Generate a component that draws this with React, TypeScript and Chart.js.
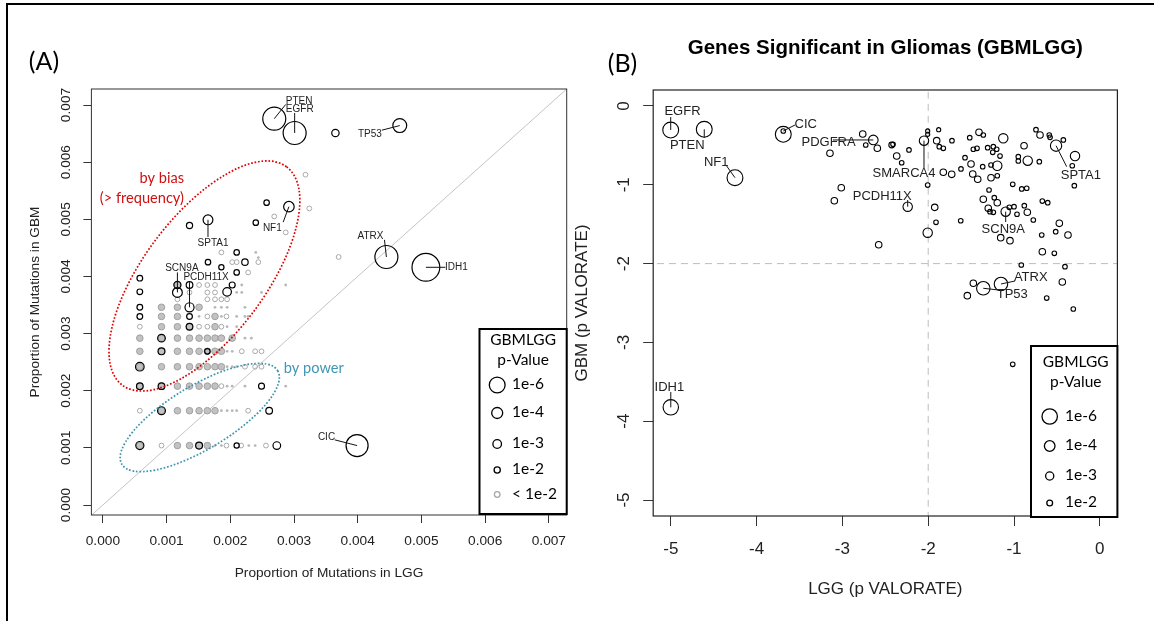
import React, { useEffect, useRef } from "react";
import { Chart, registerables } from "chart.js";
Chart.register(...registerables);

const SANS = '"Liberation Sans", Arial, sans-serif';
const CAL = 'Lato, "Open Sans", sans-serif';

// ---------------- Panel A data ----------------
const aTicks = [0, 0.001, 0.002, 0.003, 0.004, 0.005, 0.006, 0.007];
const aTickLabels = ["0.000", "0.001", "0.002", "0.003", "0.004", "0.005", "0.006", "0.007"];

// significant genes: [prop. LGG, prop. GBM, -log10(p GBMLGG)]
const aSignificant: [number, number, number][] = [
  [0.00269, 0.00676, 9.0], [0.00301, 0.00651, 9.0], [0.00466, 0.00664, 5.2], [0.00365, 0.00651, 2.5],
  [0.00292, 0.00522, 3.8], [0.00257, 0.00529, 1.7], [0.0024, 0.00494, 1.7], [0.00136, 0.00489, 2.0],
  [0.00165, 0.00499, 3.5], [0.00445, 0.00434, 9.0], [0.00507, 0.00416, 11.0], [0.00399, 0.00104, 8.6],
  [0.0021, 0.00442, 1.7], [0.00165, 0.00425, 1.7], [0.00223, 0.00425, 2.1], [0.00186, 0.00416, 1.6],
  [0.0021, 0.00407, 1.7], [0.00058, 0.00397, 1.8], [0.00058, 0.00373, 1.8], [0.00117, 0.00385, 2.4],
  [0.00117, 0.00372, 3.5], [0.00136, 0.00385, 2.2], [0.00203, 0.00385, 1.9], [0.00195, 0.00373, 3.0],
  [0.00136, 0.00346, 3.2], [0.00058, 0.00346, 1.8], [0.00058, 0.0033, 1.8], [0.00136, 0.0033, 1.8],
  [0.00136, 0.00312, 2.2], [0.00092, 0.00292, 2.6], [0.00092, 0.00269, 2.3], [0.00164, 0.00269, 1.7],
  [0.00058, 0.00242, 3.0], [0.00058, 0.00208, 2.2], [0.00092, 0.00208, 2.2], [0.00249, 0.00208, 1.9],
  [0.00092, 0.00165, 2.7], [0.00261, 0.00165, 2.2], [0.00058, 0.00104, 2.8], [0.00151, 0.00104, 2.3],
  [0.0021, 0.00104, 1.6], [0.00273, 0.00104, 2.6],
];

// non-significant genes stacked on the same values (dense)
const aDense: [number, number][] = [
  [0.00092, 0.00346], [0.00117, 0.00346], [0.00151, 0.00346],
  [0.00092, 0.0033], [0.00117, 0.0033], [0.00176, 0.0033],
  [0.00092, 0.00312], [0.00117, 0.00312], [0.00136, 0.00312], [0.00176, 0.00312],
  [0.00058, 0.00292], [0.00092, 0.00292], [0.00117, 0.00292], [0.00136, 0.00292], [0.00151, 0.00292],
  [0.00164, 0.00292], [0.00176, 0.00292], [0.00186, 0.00292], [0.00203, 0.00292],
  [0.00058, 0.00269], [0.00092, 0.00269], [0.00117, 0.00269], [0.00136, 0.00269], [0.00151, 0.00269],
  [0.00164, 0.00269], [0.00176, 0.00269], [0.00186, 0.00269],
  [0.00058, 0.00242], [0.00092, 0.00242], [0.00117, 0.00242], [0.00136, 0.00242], [0.00151, 0.00242],
  [0.00164, 0.00242], [0.00176, 0.00242], [0.00186, 0.00242],
  [0.00058, 0.00208], [0.00092, 0.00208], [0.00117, 0.00208], [0.00136, 0.00208], [0.00151, 0.00208],
  [0.00164, 0.00208], [0.00176, 0.00208],
  [0.00092, 0.00165], [0.00117, 0.00165], [0.00136, 0.00165], [0.00151, 0.00165], [0.00164, 0.00165],
  [0.00176, 0.00165],
  [0.00058, 0.00104], [0.00117, 0.00104], [0.00136, 0.00104], [0.00151, 0.00104], [0.00164, 0.00104],
  [0.00117, 0.00385],
];

// single non-significant genes
const aSingle: [number, number][] = [
  [0.00164, 0.0033], [0.00194, 0.0033],
  [0.00058, 0.00312], [0.00151, 0.00312], [0.00164, 0.00312], [0.00186, 0.00312],
  [0.00218, 0.00269], [0.00239, 0.00269], [0.00249, 0.00269],
  [0.00223, 0.00242], [0.00239, 0.00242], [0.00249, 0.00242],
  [0.00186, 0.00208],
  [0.00058, 0.00165], [0.00228, 0.00165],
  [0.00092, 0.00104], [0.00194, 0.00104], [0.00217, 0.00104], [0.00256, 0.00104],
  [0.00117, 0.0036], [0.00164, 0.0036], [0.00176, 0.0036], [0.00186, 0.0036], [0.00195, 0.0036],
  [0.00136, 0.00372], [0.00164, 0.00372], [0.00176, 0.00372],
  [0.00151, 0.00385], [0.00164, 0.00385], [0.00176, 0.00385],
  [0.00228, 0.00407], [0.00203, 0.00425], [0.0021, 0.00425], [0.00244, 0.00425], [0.00186, 0.00442],
  [0.00269, 0.00505], [0.00287, 0.00477], [0.00318, 0.00578], [0.00324, 0.00519], [0.0037, 0.00434],
];

// tiny markers
const aTiny: [number, number][] = [
  [0.00176, 0.00346], [0.00186, 0.00346], [0.00195, 0.00346], [0.00223, 0.00346],
  [0.00151, 0.0033], [0.00186, 0.0033], [0.0021, 0.0033], [0.00223, 0.0033], [0.00228, 0.0033],
  [0.00195, 0.00312], [0.0021, 0.00312], [0.00223, 0.00292], [0.00233, 0.00292],
  [0.00195, 0.00269], [0.00203, 0.00269], [0.00195, 0.00242], [0.00203, 0.00242], [0.0021, 0.00242],
  [0.00195, 0.00208], [0.00203, 0.00208], [0.00223, 0.00208], [0.00287, 0.00208],
  [0.00186, 0.00165], [0.00195, 0.00165], [0.00203, 0.00165], [0.0021, 0.00165],
  [0.00176, 0.00104], [0.00186, 0.00104], [0.00229, 0.00104], [0.00239, 0.00104],
  [0.0021, 0.00372], [0.00218, 0.00372], [0.00249, 0.00372], [0.00218, 0.00385], [0.00287, 0.00385],
  [0.00244, 0.00433], [0.0024, 0.00442],
];

const aLabels = [
  { gene: "PTEN", px: 0.00269, py: 0.00676, tx: 0.00308, ty: 0.00707, lx: 0.00287, ly: 0.00701 },
  { gene: "EGFR", px: 0.00301, py: 0.00651, tx: 0.00309, ty: 0.006925, lx: 0.00301, ly: 0.00686 },
  { gene: "TP53", px: 0.00466, py: 0.00664, tx: 0.00419, ty: 0.00649, lx: 0.00438, ly: 0.00656 },
  { gene: "NF1", px: 0.00292, py: 0.00522, tx: 0.00266, ty: 0.00485, lx: 0.00283, ly: 0.00495 },
  { gene: "SPTA1", px: 0.00165, py: 0.00499, tx: 0.00173, ty: 0.00458, lx: 0.00165, ly: 0.00469 },
  { gene: "SCN9A", px: 0.00117, py: 0.00372, tx: 0.00124, ty: 0.00414, lx: 0.00117, ly: 0.00407 },
  { gene: "PCDH11X", px: 0.00136, py: 0.00346, tx: 0.00162, ty: 0.003985, lx: 0.00136, ly: 0.0039 },
  { gene: "ATRX", px: 0.00445, py: 0.00434, tx: 0.0042, ty: 0.0047, lx: 0.00442, ly: 0.00464 },
  { gene: "IDH1", px: 0.00507, py: 0.00416, tx: 0.00555, ty: 0.00416, lx: 0.005375, ly: 0.00416 },
  { gene: "CIC", px: 0.00399, py: 0.00104, tx: 0.00351, ty: 0.001185, lx: 0.00364, ly: 0.00114 },
];

// ---------------- Panel B data ----------------
const bXTicks = [-5, -4, -3, -2, -1, 0];
const bYTicks = [0, -1, -2, -3, -4, -5];

// [LGG log p, GBM log p, -log10(p GBMLGG)]
const bGenes: [number, number, number][] = [
  [-5.001, -0.305, 6.2], [-4.61, -0.296, 6.2], [-4.252, -0.91, 6.2], [-3.689, -0.359, 6.2],
  [-3.689, -0.317, 1.5], [-5.0, -3.824, 6.0], [-1.358, -2.313, 5.2], [-1.152, -2.259, 5.2],
  [-0.51, -0.504, 4.3], [-2.049, -0.44, 3.5], [-2.239, -1.278, 3.5], [-1.097, -1.341, 3.5],
  [-2.64, -0.431, 3.6], [-2.763, -0.355, 2.3], [-2.728, -0.495, 1.5], [-2.593, -0.537, 2.3],
  [-3.145, -0.6, 2.3], [-3.013, -1.037, 2.3], [-3.094, -1.202, 2.3], [-2.577, -1.76, 2.3],
  [-2.006, -0.317, 1.3], [-2.006, -0.359, 1.3], [-1.878, -0.301, 1.3], [-1.901, -0.44, 2.3],
  [-1.871, -0.516, 1.5], [-1.824, -0.537, 1.5], [-1.723, -0.44, 1.5], [-2.425, -0.495, 2.0],
  [-2.41, -0.486, 1.5], [-2.224, -0.558, 1.5], [-2.367, -0.635, 2.3], [-2.309, -0.72, 1.5],
  [-2.006, -1.003, 1.5], [-1.824, -0.841, 2.3], [-1.726, -0.867, 2.3], [-1.618, -0.799, 1.5],
  [-1.924, -1.286, 2.3], [-1.909, -1.476, 1.5], [-1.621, -1.456, 1.5], [-2.006, -1.608, 3.5],
  [-1.516, -0.402, 1.5], [-1.408, -0.334, 2.3], [-1.358, -0.368, 1.5], [-1.125, -0.41, 3.5],
  [-1.474, -0.549, 1.5], [-1.431, -0.537, 1.5], [-1.307, -0.529, 1.5], [-1.241, -0.516, 1.5],
  [-1.202, -0.549, 1.5], [-1.248, -0.588, 1.5], [-1.163, -0.635, 1.5], [-1.571, -0.656, 1.5],
  [-1.501, -0.736, 2.3], [-1.365, -0.77, 1.5], [-1.268, -0.749, 1.5], [-1.195, -0.758, 3.5],
  [-1.481, -0.863, 2.3], [-1.423, -0.93, 2.3], [-1.268, -0.91, 2.3], [-1.195, -0.885, 1.5],
  [-1.015, -0.994, 1.5], [-0.91, -1.053, 1.5], [-0.852, -1.044, 1.5], [-1.291, -1.066, 1.5],
  [-1.358, -1.184, 2.3], [-1.23, -1.164, 1.5], [-1.195, -1.227, 2.3], [-1.3, -1.298, 2.3],
  [-1.28, -1.341, 1.5], [-1.241, -1.349, 1.5], [-1.055, -1.286, 1.5], [-1.0, -1.278, 1.5],
  [-0.965, -1.374, 1.5], [-0.88, -1.265, 1.5], [-0.845, -1.349, 2.3], [-0.775, -1.447, 1.5],
  [-0.95, -0.643, 1.5], [-0.95, -0.698, 1.5], [-0.84, -0.694, 3.5], [-0.883, -0.504, 2.3],
  [-0.705, -0.707, 1.5], [-0.744, -0.301, 1.5], [-0.697, -0.368, 2.3], [-0.589, -0.368, 1.5],
  [-0.58, -0.397, 1.5], [-0.425, -0.431, 1.5], [-0.289, -0.635, 3.5], [-0.321, -0.758, 1.5],
  [-0.297, -1.011, 1.5], [-0.67, -1.206, 1.5], [-0.607, -1.227, 1.5], [-0.472, -1.489, 2.3],
  [-0.514, -1.595, 1.5], [-0.371, -1.637, 2.3], [-0.677, -1.637, 1.5], [-1.155, -1.671, 2.3],
  [-1.047, -1.709, 2.3], [-0.67, -1.849, 2.3], [-0.53, -1.869, 1.5], [-0.915, -2.018, 1.5],
  [-0.406, -2.039, 1.5], [-0.437, -2.234, 2.3], [-1.474, -2.25, 2.3], [-1.544, -2.407, 2.3],
  [-0.619, -2.437, 1.5], [-0.309, -2.576, 1.5], [-1.015, -3.278, 1.5],
];

const bLabels = [
  { gene: "EGFR", px: -5.001, py: -0.305, tx: -4.864, ty: -0.063, lx: -5.001, ly: -0.14 },
  { gene: "PTEN", px: -4.61, py: -0.296, tx: -4.808, ty: -0.504, lx: -4.61, ly: -0.402 },
  { gene: "NF1", px: -4.252, py: -0.91, tx: -4.471, ty: -0.72, lx: -4.357, ly: -0.749 },
  { gene: "CIC", px: -3.689, py: -0.317, tx: -3.427, ty: -0.228, lx: -3.552, ly: -0.241 },
  { gene: "PDGFRA", px: -2.64, py: -0.431, tx: -3.161, ty: -0.466, lx: -3.11, ly: -0.431 },
  { gene: "SMARCA4", px: -2.049, py: -0.44, tx: -2.282, ty: -0.854, lx: -2.049, ly: -0.787 },
  { gene: "PCDH11X", px: -2.239, py: -1.278, tx: -2.536, ty: -1.151, lx: -2.239, ly: -1.193 },
  { gene: "SCN9A", px: -1.097, py: -1.341, tx: -1.125, ty: -1.561, lx: -1.097, ly: -1.472 },
  { gene: "SPTA1", px: -0.51, py: -0.504, tx: -0.221, ty: -0.876, lx: -0.386, ly: -0.77 },
  { gene: "ATRX", px: -1.152, py: -2.259, tx: -0.805, ty: -2.179, lx: -0.988, ly: -2.221 },
  { gene: "TP53", px: -1.358, py: -2.313, tx: -1.02, ty: -2.39, lx: -1.183, ly: -2.335 },
  { gene: "IDH1", px: -5.0, py: -3.824, tx: -5.017, ty: -3.575, lx: -5.0, ly: -3.63 },
];

const legendLevels = [6, 4, 3, 2];
const legendTexts = ["1e-6", "1e-4", "1e-3", "1e-2"];

const radiusA = (l: number) => 0.7 + 1.2 * l;
const radiusB = (l: number) => 0.5 + 1.2 * l;

function text(ctx: any, s: string, x: number, y: number, font: string, color: string, align: any = "center") {
  ctx.font = font;
  ctx.fillStyle = color;
  ctx.textAlign = align;
  ctx.textBaseline = "middle";
  ctx.fillText(s, x, y);
}

function drawLabels(chart: any, labels: any[], font: string) {
  const { ctx, scales } = chart;
  const x = scales.x, y = scales.y;
  ctx.save();
  ctx.strokeStyle = "#111";
  ctx.lineWidth = 1;
  for (const l of labels) {
    ctx.beginPath();
    ctx.moveTo(x.getPixelForValue(l.px), y.getPixelForValue(l.py));
    ctx.lineTo(x.getPixelForValue(l.lx), y.getPixelForValue(l.ly));
    ctx.stroke();
    text(ctx, l.gene, x.getPixelForValue(l.tx), y.getPixelForValue(l.ty), font, "#222");
  }
  ctx.restore();
}

function axisCommon(tickLen: number, size: number, pad: number) {
  return {
    grid: { display: true, drawOnChartArea: false, drawTicks: true, tickLength: tickLen, color: "#333", lineWidth: 1 },
    border: { display: false },
    ticks: { font: { family: SANS, size }, color: "#222", padding: pad, autoSkip: false },
  };
}

export default function App() {
  const refA = useRef<HTMLCanvasElement>(null);
  const refB = useRef<HTMLCanvasElement>(null);

  useEffect(() => {
    const pluginA = {
      id: "panelA",
      beforeDraw(chart: any) {
        const ctx = chart.ctx;
        ctx.save();
        ctx.fillStyle = "#000";
        ctx.fillRect(6, 3, 1148, 2);
        ctx.fillRect(6, 3, 2, 618);
        ctx.restore();
      },
      afterDatasetsDraw(chart: any) {
        const { ctx, chartArea: ca, scales } = chart;
        const x = scales.x, y = scales.y;
        ctx.save();
        ctx.strokeStyle = "#333";
        ctx.lineWidth = 1;
        ctx.strokeRect(ca.left, ca.top, ca.right - ca.left, ca.bottom - ca.top);
        // ellipses
        ctx.lineWidth = 1.7;
        ctx.setLineDash([1.7, 1.8]);
        ctx.strokeStyle = "#e00000";
        ctx.beginPath();
        ctx.ellipse(x.getPixelForValue(0.001594), y.getPixelForValue(0.004008), 136.6, 60.7, (-53 * Math.PI) / 180, 0, 2 * Math.PI);
        ctx.stroke();
        ctx.strokeStyle = "#3a93b0";
        ctx.beginPath();
        ctx.ellipse(x.getPixelForValue(0.001521), y.getPixelForValue(0.001531), 90.9, 31.7, (-31 * Math.PI) / 180, 0, 2 * Math.PI);
        ctx.stroke();
        ctx.setLineDash([]);
        ctx.restore();
        drawLabels(chart, aLabels, `10px ${SANS}`);
        ctx.save();
        // annotations
        text(ctx, "by bias", x.getPixelForValue(0.001273), y.getPixelForValue(0.005718), `14.6px ${CAL}`, "#d01010", "right");
        text(ctx, "(> frequency)", x.getPixelForValue(0.001273), y.getPixelForValue(0.005368), `14.6px ${CAL}`, "#d01010", "right");
        text(ctx, "by power", x.getPixelForValue(0.00284), y.getPixelForValue(0.002392), `14.6px ${CAL}`, "#3f97b3", "left");
        text(ctx, "(A)", 44, 62, `25px ${CAL}`, "#000");
        // legend
        const lw = 87.2, lh = 185;
        const lx = ca.right - lw, ly = ca.bottom - lh - 1;
        ctx.fillStyle = "#fff";
        ctx.fillRect(lx, ly, lw, lh);
        ctx.strokeStyle = "#000";
        ctx.lineWidth = 2;
        ctx.strokeRect(lx, ly, lw, lh);
        const cx = lx + lw / 2;
        text(ctx, "GBMLGG", cx, ly + 11, `15.5px ${CAL}`, "#000");
        text(ctx, "p-Value", cx, ly + 31, `15.5px ${CAL}`, "#000");
        const rows = [55, 83, 114, 140];
        ctx.lineWidth = 1.3;
        legendLevels.forEach((lv, i) => {
          ctx.strokeStyle = "#000";
          ctx.beginPath();
          ctx.arc(lx + 17.7, ly + rows[i] + 1, radiusA(lv), 0, 2 * Math.PI);
          ctx.stroke();
          text(ctx, legendTexts[i], lx + 32.5, ly + rows[i], `15.5px ${CAL}`, "#000", "left");
        });
        ctx.strokeStyle = "#a8a8a8";
        ctx.beginPath();
        ctx.arc(lx + 17.7, ly + 165.5, 2.8, 0, 2 * Math.PI);
        ctx.stroke();
        text(ctx, "< 1e-2", lx + 32.5, ly + 165, `15.5px ${CAL}`, "#000", "left");
        ctx.restore();
      },
    };

    const cfgA: any = {
      type: "scatter",
      data: {
        datasets: [
          {
            data: aSignificant.map((d) => ({ x: d[0], y: d[1] })),
            pointRadius: aSignificant.map((d) => radiusA(d[2])),
            pointBorderColor: "#000",
            pointBackgroundColor: "rgba(0,0,0,0)",
            pointBorderWidth: 1.2,
          },
          {
            data: aSingle.map((d) => ({ x: d[0], y: d[1] })),
            pointRadius: 2.4,
            pointBorderColor: "#a8a8a8",
            pointBackgroundColor: "rgba(0,0,0,0)",
            pointBorderWidth: 1,
          },
          {
            data: aTiny.map((d) => ({ x: d[0], y: d[1] })),
            pointRadius: 1.4,
            pointBorderWidth: 0,
            pointBackgroundColor: "#b8b8b8",
          },
          {
            data: aDense.map((d) => ({ x: d[0], y: d[1] })),
            pointRadius: 3.3,
            pointBorderColor: "#a0a0a0",
            pointBackgroundColor: "#c2c2c2",
            pointBorderWidth: 1,
          },
          {
            type: "line",
            data: [{ x: -0.001, y: -0.001 }, { x: 0.008, y: 0.008 }],
            borderColor: "#c4c4c4",
            borderWidth: 1,
            pointRadius: 0,
          },
        ],
      },
      options: {
        responsive: false,
        animation: false,
        events: [],
        layout: { padding: { left: 0, top: 89, right: 1154 - 566.7, bottom: 0 } },
        plugins: { legend: { display: false }, tooltip: { enabled: false } },
        scales: {
          x: {
            type: "linear",
            bounds: "data",
            min: -0.00018,
            max: 0.00728,
            afterBuildTicks: (s: any) => { s.ticks = aTicks.map((v) => ({ value: v })); },
            afterFit: (s: any) => { s.height = 106; },
            ...axisCommon(8, 13.7, 10),
            ticks: { ...axisCommon(8, 13.7, 10).ticks, maxRotation: 0, callback: (_v: any, i: number) => aTickLabels[i] },
            title: { display: true, text: "Proportion of Mutations in LGG", color: "#222", font: { family: SANS, size: 13.7 }, padding: { top: 0, bottom: 39.5 } },
          },
          y: {
            type: "linear",
            bounds: "data",
            min: -0.000175,
            max: 0.00728,
            afterBuildTicks: (s: any) => { s.ticks = aTicks.map((v) => ({ value: v })); },
            afterFit: (s: any) => { s.width = 91.4; },
            ...axisCommon(8, 13.7, 0),
            ticks: { ...axisCommon(8, 13.7, 0).ticks, minRotation: 90, maxRotation: 90, crossAlign: "center", callback: (_v: any, i: number) => aTickLabels[i] },
            title: { display: true, text: "Proportion of Mutations in GBM", color: "#222", font: { family: SANS, size: 13.7 }, padding: { top: 26.8, bottom: 0 } },
          },
        },
      },
      plugins: [pluginA],
    };

    const pluginB = {
      id: "panelB",
      afterDatasetsDraw(chart: any) {
        const { ctx, chartArea: ca } = chart;
        ctx.save();
        ctx.strokeStyle = "#222";
        ctx.lineWidth = 1.2;
        ctx.strokeRect(ca.left, ca.top, ca.right - ca.left, ca.bottom - ca.top);
        ctx.restore();
        drawLabels(chart, bLabels, `13px ${SANS}`);
        ctx.save();
        text(ctx, "Genes Significant in Gliomas (GBMLGG)", (ca.left + ca.right) / 2, 48.5, `bold 20.5px ${SANS}`, "#000");
        text(ctx, "(B)", 622.5, 63.5, `25px ${CAL}`, "#000");
        const lw = 86.4, lh = 171;
        const lx = ca.right - lw, ly = ca.bottom - 170;
        ctx.fillStyle = "#fff";
        ctx.fillRect(lx, ly, lw, lh);
        ctx.strokeStyle = "#000";
        ctx.lineWidth = 2;
        ctx.strokeRect(lx, ly, lw, lh);
        const cx = lx + lw / 2 + 1.5;
        text(ctx, "GBMLGG", cx, ly + 16, `15.5px ${CAL}`, "#000");
        text(ctx, "p-Value", cx, ly + 36, `15.5px ${CAL}`, "#000");
        const rows = [69.5, 99, 129, 156];
        ctx.lineWidth = 1.3;
        legendLevels.forEach((lv, i) => {
          ctx.strokeStyle = "#000";
          ctx.beginPath();
          ctx.arc(lx + 18.7, ly + rows[i] + 1, radiusB(lv), 0, 2 * Math.PI);
          ctx.stroke();
          text(ctx, legendTexts[i], lx + 34, ly + rows[i], `15.5px ${CAL}`, "#000", "left");
        });
        ctx.restore();
      },
    };

    const cfgB: any = {
      type: "scatter",
      data: {
        datasets: [
          {
            data: bGenes.map((d) => ({ x: d[0], y: d[1] })),
            pointRadius: bGenes.map((d) => radiusB(d[2])),
            pointBorderColor: "#000",
            pointBackgroundColor: "rgba(0,0,0,0)",
            pointBorderWidth: 1.1,
          },
          {
            type: "line",
            data: [{ x: -2, y: -6 }, { x: -2, y: 1 }],
            borderColor: "#bdbdbd",
            borderWidth: 1,
            borderDash: [7, 5],
            pointRadius: 0,
          },
          {
            type: "line",
            data: [{ x: -6, y: -2 }, { x: 1, y: -2 }],
            borderColor: "#bdbdbd",
            borderWidth: 1,
            borderDash: [7, 5],
            pointRadius: 0,
          },
        ],
      },
      options: {
        responsive: false,
        animation: false,
        events: [],
        layout: { padding: { left: 563.2, top: 90, right: 1154 - 1117.4, bottom: 0 } },
        plugins: { legend: { display: false }, tooltip: { enabled: false } },
        scales: {
          x: {
            type: "linear",
            bounds: "data",
            min: -5.205,
            max: 0.205,
            afterBuildTicks: (s: any) => { s.ticks = bXTicks.map((v) => ({ value: v })); },
            afterFit: (s: any) => { s.height = 105; },
            ...axisCommon(10, 17, 13),
            ticks: { ...axisCommon(10, 17, 13).ticks, maxRotation: 0 },
            title: { display: true, text: "LGG (p VALORATE)", color: "#222", font: { family: SANS, size: 17 }, padding: { top: 0, bottom: 21.5 } },
          },
          y: {
            type: "linear",
            bounds: "data",
            min: -5.203,
            max: 0.203,
            afterBuildTicks: (s: any) => { s.ticks = bYTicks.map((v) => ({ value: v })); },
            afterFit: (s: any) => { s.width = 90; },
            ...axisCommon(10, 17, 11.6),
            ticks: { ...axisCommon(10, 17, 11.6).ticks, minRotation: 90, maxRotation: 90, crossAlign: "center" },
            title: { display: true, text: "GBM (p VALORATE)", color: "#222", font: { family: SANS, size: 17 }, padding: { top: 9.1, bottom: 0 } },
          },
        },
      },
      plugins: [pluginB],
    };

    const a = new Chart(refA.current as HTMLCanvasElement, cfgA);
    const b = new Chart(refB.current as HTMLCanvasElement, cfgB);
    return () => {
      a.destroy();
      b.destroy();
    };
  }, []);

  return (
    <div style={{ position: "absolute", left: 0, top: 0, width: 1154, height: 621, background: "#fff", overflow: "hidden" }}>
      <canvas ref={refA} width={1154} height={621} style={{ position: "absolute", left: 0, top: 0 }} />
      <canvas ref={refB} width={1154} height={621} style={{ position: "absolute", left: 0, top: 0 }} />
    </div>
  );
}
